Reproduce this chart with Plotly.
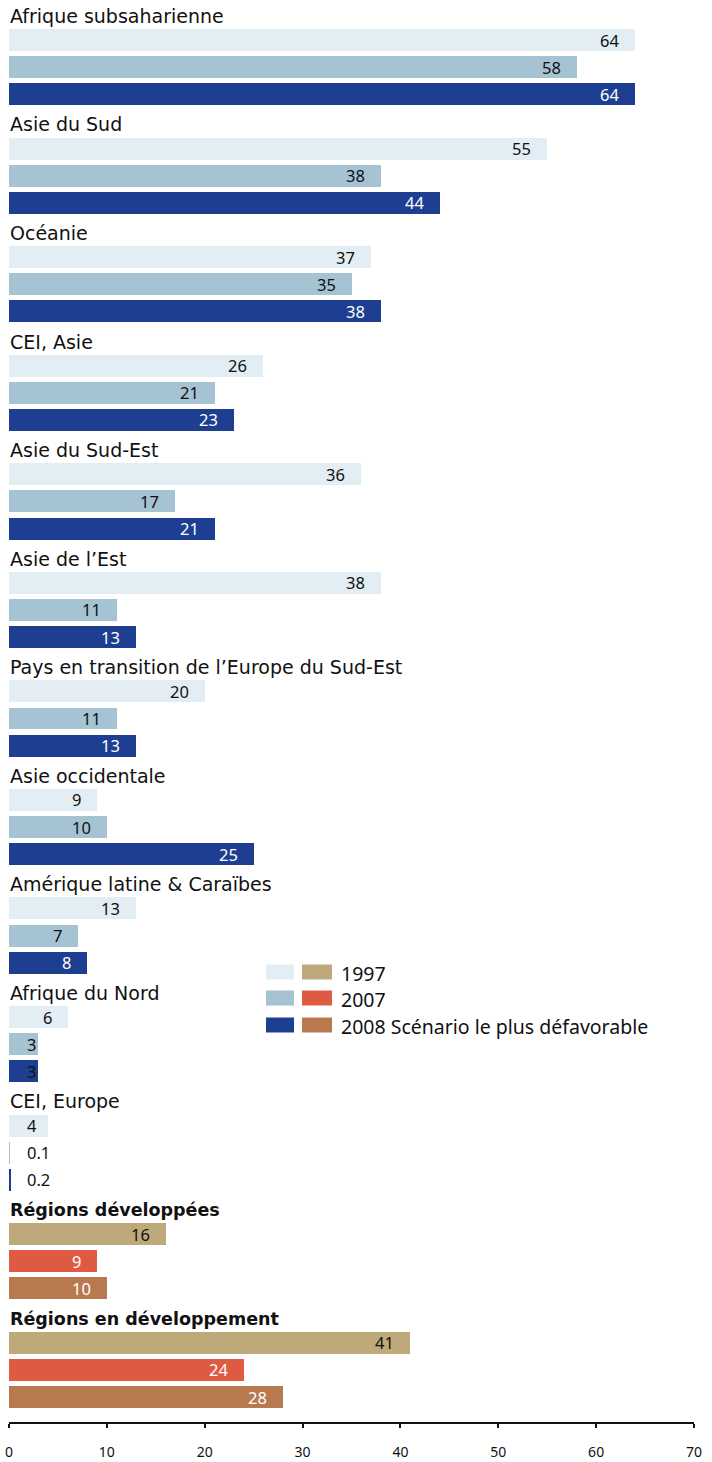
import plotly.graph_objects as go

# Régions et valeurs (%) pour 1997, 2007 et 2008 (scénario le plus défavorable)
regions = [
    "Afrique subsaharienne",
    "Asie du Sud",
    "Océanie",
    "CEI, Asie",
    "Asie du Sud-Est",
    "Asie de l’Est",
    "Pays en transition de l’Europe du Sud-Est",
    "Asie occidentale",
    "Amérique latine & Caraïbes",
    "Afrique du Nord",
    "CEI, Europe",
    "Régions développées",
    "Régions en développement",
]
values_1997 = [64, 55, 37, 26, 36, 38, 20, 9, 13, 6, 4, 16, 41]
values_2007 = [58, 38, 35, 21, 17, 11, 11, 10, 7, 3, 0.1, 9, 24]
values_2008 = [64, 44, 38, 23, 21, 13, 13, 25, 8, 3, 0.2, 10, 28]
aggregate = [False] * 11 + [True, True]

years = ["1997", "2007", "2008 Scénario le plus défavorable"]
blues = ["#E2EDF4", "#A5C3D3", "#1E3E91"]
warm = ["#BDA97A", "#DE5A42", "#B8794F"]
label_colors_blue = ["#111111", "#111111", "#FFFFFF"]
label_colors_warm = ["#111111", "#FFFFFF", "#FFFFFF"]

FONT = "Noto Sans"
TITLE_FONT = "DejaVu Sans"
W, H = 712, 1462
ML, MR, MT, MB = 9, 18, 0, 40
X_MAX = 70
PX_PER_UNIT = (W - ML - MR) / X_MAX
ROWS_PER_GROUP = 4

series = [values_1997, values_2007, values_2008]

fig = go.Figure()
annotations = []

for k, (vals, name) in enumerate(zip(series, years)):
    ys, xs, colors = [], [], []
    for g, v in enumerate(vals):
        ys.append(g * ROWS_PER_GROUP + 1 + k)
        xs.append(v)
        colors.append(warm[k] if aggregate[g] else blues[k])
    fig.add_trace(go.Bar(
        x=xs, y=ys, orientation="h", width=0.81,
        marker=dict(color=colors, line=dict(width=0)),
        name=name, showlegend=False, hoverinfo="x",
    ))
    # value labels inside the bar end (or next to the axis when too short)
    for g, v in enumerate(vals):
        txt = f"{v:g}"
        col = (label_colors_warm if aggregate[g] else label_colors_blue)[k]
        bar_px = v * PX_PER_UNIT
        est_w = sum(4 if ch == "." else 9.5 for ch in txt)
        if bar_px - 16 - est_w < 18:
            annotations.append(dict(
                x=0, y=g * ROWS_PER_GROUP + 1 + k, xref="x", yref="y",
                text=txt, showarrow=False, xanchor="left", yanchor="middle",
                xshift=16, font=dict(family=FONT, size=16.5, color="#111111"),
            ))
        else:
            annotations.append(dict(
                x=v, y=g * ROWS_PER_GROUP + 1 + k, xref="x", yref="y",
                text=txt, showarrow=False, xanchor="right", yanchor="middle",
                xshift=-14, font=dict(family=FONT, size=16.5, color=col),
            ))

# group titles
for g, name in enumerate(regions):
    annotations.append(dict(
        x=0, y=g * ROWS_PER_GROUP, xref="x", yref="y",
        text=f"<b>{name}</b>" if aggregate[g] else name,
        showarrow=False, xanchor="left", yanchor="middle",
        xshift=-1, yshift=-3,
        font=dict(family=TITLE_FONT, size=17.5 if aggregate[g] else 19, color="#111111"),
    ))

# legend drawn with swatches in pixel positions
def px_x(p):
    return (p - ML) / (W - ML - MR)

def px_y(p):
    return (H - MB - p) / (H - MT - MB)

shapes = []
legend_rows = [972, 998, 1025]
for k, yc in enumerate(legend_rows):
    for x0, x1, c in [(266, 294, blues[k]), (302, 332, warm[k])]:
        shapes.append(dict(
            type="rect", xref="paper", yref="paper",
            x0=px_x(x0), x1=px_x(x1), y0=px_y(yc + 7.5), y1=px_y(yc - 7.5),
            fillcolor=c, line=dict(width=0), layer="above",
        ))
    annotations.append(dict(
        x=px_x(339), y=px_y(yc + 1), xref="paper", yref="paper",
        text=years[k], showarrow=False, xanchor="left", yanchor="middle",
        font=dict(family=FONT, size=19.5, color="#111111"),
    ))

row_px = 27.14
y_top = 1 - 40 / row_px
y_bottom = y_top + (H - MT - MB) / row_px

fig.update_layout(
    width=W, height=H,
    margin=dict(l=ML, r=MR, t=MT, b=MB, autoexpand=False),
    paper_bgcolor="white", plot_bgcolor="white",
    barmode="overlay",
    bargap=0,
    showlegend=False,
    annotations=annotations,
    shapes=shapes,
    font=dict(family=FONT, color="#111111"),
    xaxis=dict(
        range=[0, X_MAX], dtick=10, tick0=0,
        showgrid=False, zeroline=False, automargin=False,
        showline=True, linecolor="#111111", linewidth=2,
        ticks="outside", ticklen=4, tickwidth=1.5, tickcolor="#111111",
        ticklabelstandoff=12,
        tickfont=dict(family=FONT, size=14, color="#111111"),
        fixedrange=True,
    ),
    yaxis=dict(
        range=[y_bottom, y_top], visible=False, fixedrange=True,
    ),
)

fig.write_html("out.html")
